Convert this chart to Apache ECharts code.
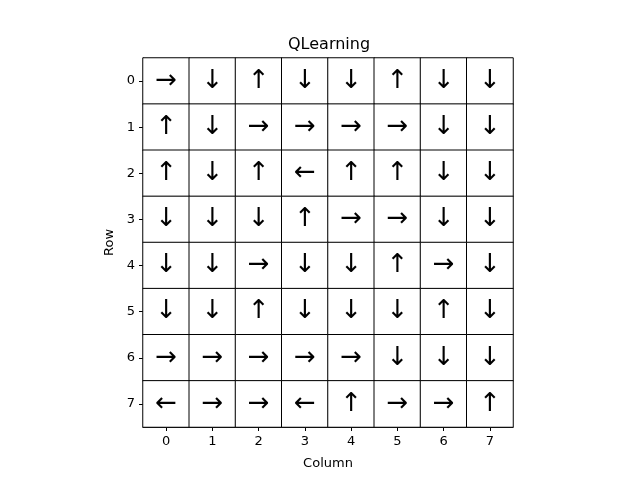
<!DOCTYPE html>
<html><head><meta charset="utf-8">
<script src="https://cdn.jsdelivr.net/npm/echarts@6/dist/echarts.min.js"></script>
<style>html,body{margin:0;padding:0;background:#fff}#c{width:640px;height:480px}</style>
</head><body><div id="c"></div>
<script>
const columns = ['0','1','2','3','4','5','6','7'];
const rows = ['0','1','2','3','4','5','6','7'];
const policy = [
  ['→','↓','↑','↓','↓','↑','↓','↓'],
  ['↑','↓','→','→','→','→','↓','↓'],
  ['↑','↓','↑','←','↑','↑','↓','↓'],
  ['↓','↓','↓','↑','→','→','↓','↓'],
  ['↓','↓','→','↓','↓','↑','→','↓'],
  ['↓','↓','↑','↓','↓','↓','↑','↓'],
  ['→','→','→','→','→','↓','↓','↓'],
  ['←','→','→','←','↑','→','→','↑']
];
const data = [];
policy.forEach((r, i) => r.forEach((a, j) => data.push({value:[j, i, 0], arrow:a})));
const font = 'DejaVu Sans';
const chart = echarts.init(document.getElementById('c'));
chart.setOption({
  animation:false,
  title:{text:'QLearning', left:283, top:32, textStyle:{fontFamily:font, fontSize:16, fontWeight:'normal', color:'#000'}},
  grid:{left:143, top:58, width:370, height:369},
  xAxis:{type:'category', data:columns, name:'Column', nameLocation:'middle', nameGap:30,
    nameTextStyle:{fontFamily:font, fontSize:13, color:'#000'},
    axisLine:{lineStyle:{color:'#000'}}, axisTick:{show:true, alignWithLabel:true, length:4, lineStyle:{color:'#000'}},
    axisLabel:{fontFamily:font, fontSize:13, color:'#000', margin:8}, splitLine:{show:false}},
  yAxis:{type:'category', data:rows, inverse:true, name:'Row', nameLocation:'middle', nameGap:27,
    nameTextStyle:{fontFamily:font, fontSize:13, color:'#000'},
    axisLine:{lineStyle:{color:'#000'}}, axisTick:{show:true, alignWithLabel:true, length:4, lineStyle:{color:'#000'}},
    axisLabel:{fontFamily:font, fontSize:13, color:'#000', margin:8}, splitLine:{show:false}},
  visualMap:{show:false, min:0, max:1, dimension:2, inRange:{color:['#ffffff','#ffffff']}},
  series:[{type:'heatmap', data:data,
    itemStyle:{color:'#fff', borderColor:'#000', borderWidth:1},
    label:{show:true, fontFamily:font, fontSize:26, color:'#000', formatter:p=>p.data.arrow},
    emphasis:{disabled:true}}]
});
</script></body></html>
